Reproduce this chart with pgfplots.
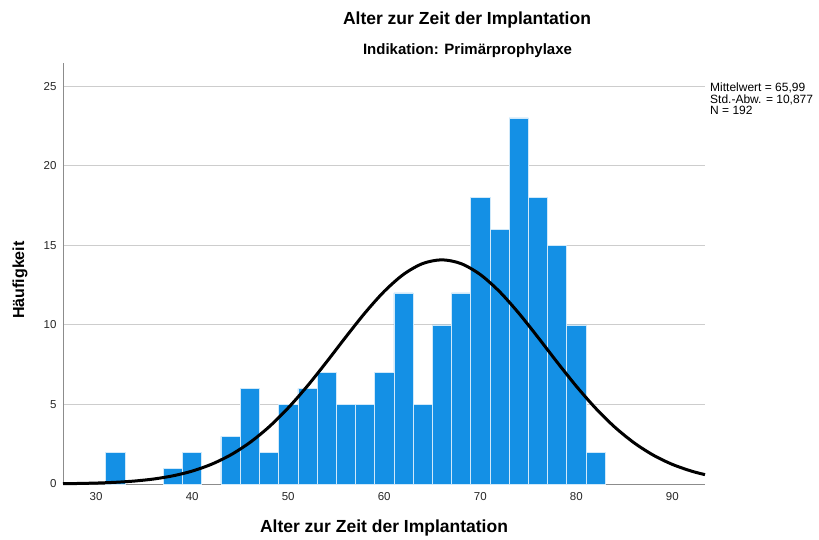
\documentclass[border=0pt]{standalone}
\usepackage{fontspec}
\setmainfont{Liberation Sans}
\usepackage{pgfplots}
\pgfplotsset{compat=1.18}
\definecolor{barblue}{RGB}{20,144,229}
\definecolor{gridgray}{RGB}{205,205,205}
\definecolor{axgray}{RGB}{140,140,140}
\begin{document}
\begin{tikzpicture}[x=1pt,y=1pt]
\path[use as bounding box] (0,0) rectangle (819,539);
\begin{axis}[
  at={(63pt,55pt)}, anchor=south west,
  width=642pt, height=421pt, scale only axis,
  xmin=26.55, xmax=93.4, ymin=0, ymax=26.45,
  axis x line*=bottom, axis y line*=left,
  axis line style={draw=axgray, line width=1pt},
  xtick={30,40,...,90}, ytick={0,5,...,25},
  major tick length=0pt,
  ymajorgrids, grid style={draw=gridgray, line width=0.9pt},
  tick label style={font=\fontsize{11.5}{12}\selectfont, text=black!85},
  /pgf/number format/assume math mode=true,
  xticklabel style={yshift=-5pt},
  yticklabel style={xshift=-3pt},
  clip=false,
]
\addplot[ybar interval, fill=barblue, draw=white!80!barblue, line width=0.6pt] coordinates {(31,2)(33,0)};
\addplot[ybar interval, fill=barblue, draw=white!80!barblue, line width=0.6pt] coordinates {(37,1)(39,2)(41,0)};
\addplot[ybar interval, fill=barblue, draw=white!80!barblue, line width=0.6pt] coordinates {
(43,3)(45,6)(47,2)(49,5)(51,6)(53,7)(55,5)(57,5)(59,7)(61,12)(63,5)(65,10)(67,12)(69,18)(71,16)(73,23)(75,18)(77,15)(79,10)(81,2)(83,0)};
\addplot[black, line width=3pt, smooth] coordinates {
(26.55,0.0197)(28,0.0316)(30,0.0591)(32,0.1067)(34,0.1864)(36,0.3148)(38,0.5138)(40,0.8108)(42,1.2369)(44,1.8245)(46,2.6019)(48,3.5867)(50,4.7803)(52,6.1588)(54,7.6713)(56,9.2374)(58,10.7534)(60,12.1024)(62,13.1676)(64,13.850)(66,14.084)(68,13.846)(70,13.159)(72,12.090)(74,10.739)(76,9.222)(78,7.656)(80,6.144)(82,4.767)(84,3.576)(86,2.594)(88,1.818)(90,1.2318)(92,0.8073)(93.4,0.5886)};
\end{axis}
\node[font=\fontsize{17.5}{18}\selectfont\bfseries] at (467,519) {Alter zur Zeit der Implantation};
\node[font=\fontsize{15}{16}\selectfont\bfseries] at (467.5,488) {Indikation: Primärprophylaxe};
\node[font=\fontsize{17.5}{18}\selectfont\bfseries] at (384,11) {Alter zur Zeit der Implantation};
\node[font=\fontsize{16}{17}\selectfont\bfseries, rotate=90] at (20,259) {Häufigkeit};
\node[font=\fontsize{12}{11.5}\selectfont, align=left, anchor=north west, inner sep=0pt] at (710,456) {Mittelwert = 65,99\\Std.-Abw. = 10,877\\N = 192};
\end{tikzpicture}
\end{document}
